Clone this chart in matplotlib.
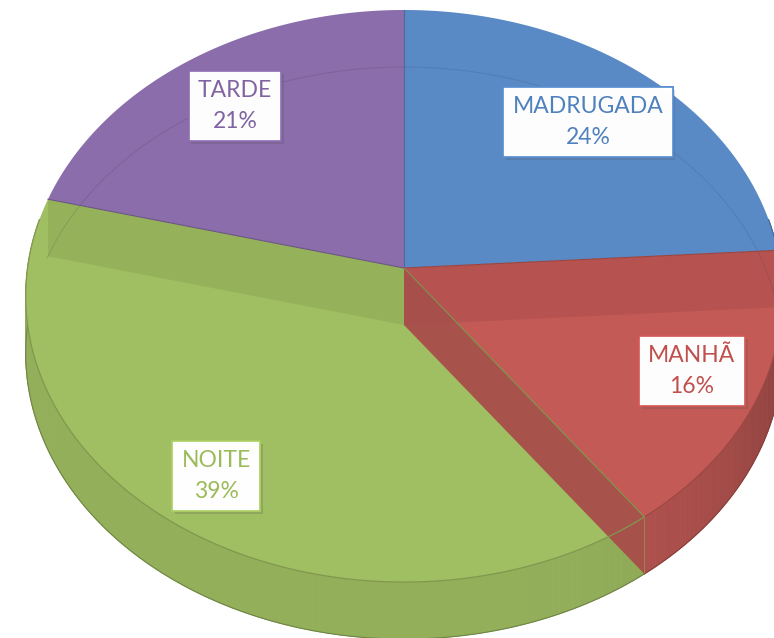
import numpy as np
import matplotlib
matplotlib.use("Agg")
import matplotlib.pyplot as plt
from matplotlib.patches import Polygon
from matplotlib.colors import to_rgb
import matplotlib.patheffects as pe

categories = ["MADRUGADA", "MANHÃ", "NOITE", "TARDE"]
shares = [24, 16, 39, 21]
top_colors = ["#5A8AC6", "#C35A56", "#A0BE62", "#8A6DAA"]
text_colors = ["#4F81BD", "#C0504D", "#9BBB59", "#8064A2"]
label_xy = [(588, 122), (692, 371), (216, 476), (235, 106)]

W, H = 774, 638
cx, cy = 404, 268          # apex of the pie on screen
R, Ry, k = 376.5, 283.3, 0.098   # radii and perspective factor
depth = 57


def proj(theta, r=1.0, z=0.0):
    t = np.radians(theta)
    s = 1.0 / (1.0 + k * r * np.cos(t))
    x = cx + R * r * np.sin(t) * s
    y = cy - Ry * r * np.cos(t) * s + depth * z
    return x, y


def shade(c, f):
    return tuple(min(1, v * f) for v in to_rgb(c))


fig = plt.figure(figsize=(W / 100, H / 100), dpi=100)
ax = fig.add_axes([0, 0, 1, 1])
ax.set_xlim(0, W)
ax.set_ylim(H, 0)
ax.axis("off")

edges = np.concatenate([[0], np.cumsum(shares)]) * 360 / sum(shares)

# outer walls (front half)
for i, col in enumerate(top_colors):
    a0, a1 = max(edges[i], 80), min(edges[i + 1], 280)
    if a1 <= a0:
        continue
    th = np.linspace(a0, a1, int(a1 - a0) + 2)
    for t0, t1 in zip(th[:-1], th[1:]):
        tm = 0.5 * (t0 + t1)
        f = 0.92 - 0.21 * max(0, np.sin(np.radians(tm))) ** 4
        x0, y0 = proj(t0)
        x1, y1 = proj(t1)
        fc = shade(col, f)
        ax.add_patch(Polygon([(x0, y0), (x1, y1), (x1, y1 + depth), (x0, y0 + depth)],
                             closed=True, fc=fc, ec=fc, lw=0.6, zorder=1))
    # bottom outline
    bx, by = proj(th)
    ax.plot(bx, by + depth, color=shade(col, 0.7), lw=0.8, zorder=1.5)

# top faces
for i, col in enumerate(top_colors):
    th = np.linspace(edges[i], edges[i + 1], 200)
    px, py = proj(th)
    pts = [(cx, cy)] + list(zip(px, py))
    ax.add_patch(Polygon(pts, closed=True, fc=col, ec="none", zorder=3))

# cut faces seen through the top
cuts = [(edges[1], top_colors[1], 0.88, 0.55),
        (edges[2], top_colors[1], 0.86, 0.95),
        (edges[3], top_colors[2], 0.92, 0.8)]
for ang, col, f, al in cuts:
    rx, ry = proj(ang)
    ax.add_patch(Polygon([(cx, cy), (rx, ry), (rx, ry + depth), (cx, cy + depth)],
                         closed=True, fc=shade(col, f), ec="none", alpha=al, zorder=4))

# faint back bottom rim visible through the top
th = np.linspace(-76, 90, 300)
bx, by = proj(th)
ax.plot(bx, by + depth, color="#303050", lw=0.7, alpha=0.16, zorder=5)

# front rim of top face and slice boundaries
for i, col in enumerate(top_colors):
    a0, a1 = max(edges[i], 80), min(edges[i + 1], 280)
    if a1 > a0:
        th = np.linspace(a0, a1, 100)
        px, py = proj(th)
        ax.plot(px, py, color=shade(col, 0.8), lw=0.9, zorder=6)
for i, ang in enumerate(edges[:-1]):
    rx, ry = proj(ang)
    ax.plot([cx, rx], [cy, ry], color=shade(top_colors[i], 0.78), lw=0.8, zorder=6)

# labels
for cat, pct, col, (lx, ly) in zip(categories, shares, text_colors, label_xy):
    t = ax.text(lx, ly, f"{cat}\n{pct}%", ha="center", va="center",
                color=col, fontsize=16.5, family=["Lato", "DejaVu Sans"],
                linespacing=1.55, zorder=10,
                bbox=dict(boxstyle="square,pad=0.4", fc=(1, 1, 1, 0.9),
                          ec=shade(col, 1.1), lw=1.2))
    t.get_bbox_patch().set_path_effects(
        [pe.withSimplePatchShadow(offset=(2, -2), alpha=0.2), pe.Normal()])

fig.savefig("out.png", dpi=100)
